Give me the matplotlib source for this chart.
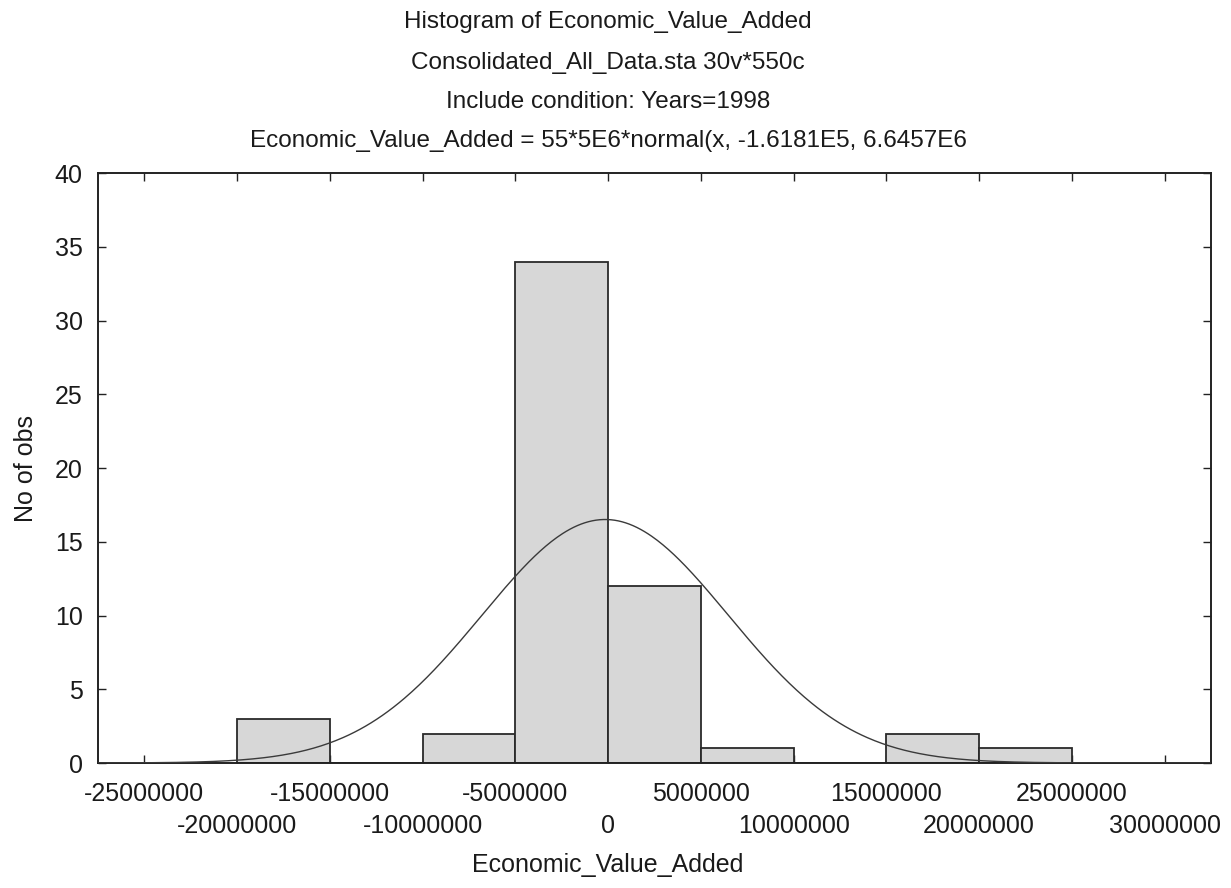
import numpy as np
import matplotlib
matplotlib.use("Agg")
import matplotlib.pyplot as plt

plt.rcParams['font.family'] = ['Liberation Sans', 'DejaVu Sans']

# Data
bin_starts = [-20e6, -15e6, -10e6, -5e6, 0, 5e6, 10e6, 15e6, 20e6]
bin_width = 5e6
counts = [3, 0, 2, 34, 12, 1, 0, 2, 1]
n_obs = 55
fit_mean = -1.6181e5
fit_sd = 6.6457e6
row1_ticks = [-25e6, -15e6, -5e6, 5e6, 15e6, 25e6]
row2_ticks = [-20e6, -10e6, 0, 10e6, 20e6, 30e6]
y_ticks = [0, 5, 10, 15, 20, 25, 30, 35, 40]
title_lines = [
    "Histogram of Economic_Value_Added",
    "Consolidated_All_Data.sta 30v*550c",
    "Include condition: Years=1998",
    "Economic_Value_Added = 55*5E6*normal(x, -1.6181E5, 6.6457E6",
]

W, H = 1231, 888
fig = plt.figure(figsize=(W / 100, H / 100), dpi=100)
ax = fig.add_axes([98 / W, (H - 763) / H, (1211 - 98) / W, (763 - 173) / H])

ax.bar(bin_starts, counts, width=bin_width, align='edge',
       facecolor='#d7d7d7', edgecolor='#2a2a2a', linewidth=1.3, zorder=2)

xs = np.linspace(-27.5e6, 32.5e6, 600)
ys = n_obs * bin_width * np.exp(-0.5 * ((xs - fit_mean) / fit_sd) ** 2) / (fit_sd * np.sqrt(2 * np.pi))
ax.plot(xs, ys, color='#3a3a3a', linewidth=1.0, zorder=3)

ax.set_xlim(-27.5e6, 32.5e6)
ax.set_ylim(0, 40)
ax.set_yticks(y_ticks)
ax.set_yticklabels([str(v) for v in y_ticks])
ax.set_xticks(row1_ticks)
ax.set_xticklabels([f"{int(v)}" for v in row1_ticks])
ax.set_xticks(row2_ticks, minor=True)
ax.set_xticklabels([f"{int(v)}" for v in row2_ticks], minor=True)

FS = 18
ax.tick_params(which='both', direction='in', top=True, right=True, length=6,
               width=1.0, color='#222222', labelsize=FS, labelcolor='#1a1a1a')
ax.tick_params(axis='x', which='major', pad=14)
ax.tick_params(axis='x', which='minor', pad=37)
ax.tick_params(axis='y', pad=11)
for s in ax.spines.values():
    s.set_linewidth(1.4)
    s.set_color('#222222')

ax.set_ylabel("No of obs", fontsize=FS, color='#1a1a1a')
ax.yaxis.set_label_coords(-(98 - 38) / (1211 - 98), 0.5)
fig.text(608 / W, 1 - 865 / H, "Economic_Value_Added", ha='center', va='center',
         fontsize=FS, color='#1a1a1a')

for i, (line, yc) in enumerate(zip(title_lines, [22, 63, 102, 141])):
    fig.text(608 / W, 1 - yc / H, line, ha='center', va='center', fontsize=17.5,
             color='#1a1a1a')

fig.savefig("out.png", dpi=100, facecolor='white')
